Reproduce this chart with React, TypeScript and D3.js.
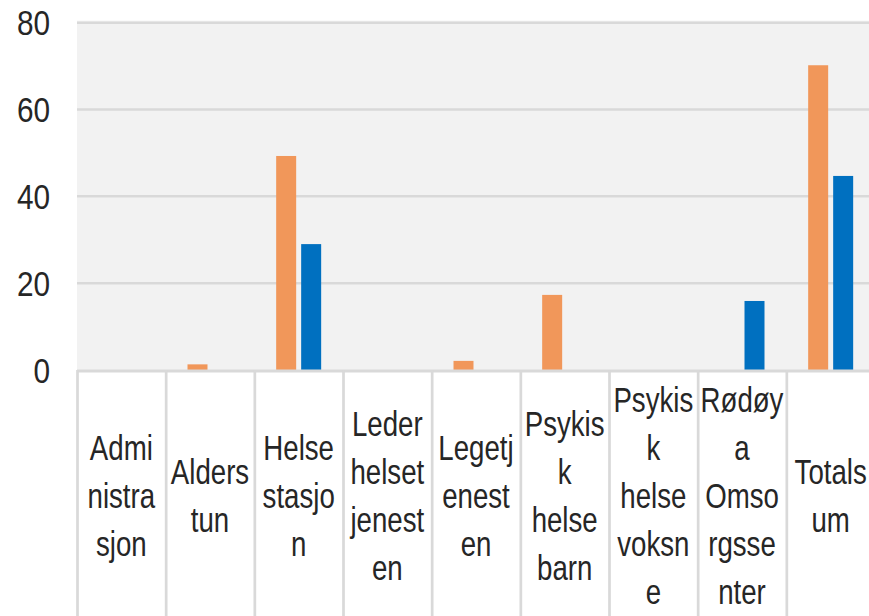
import React from 'react';
import * as d3 from 'd3';

const categories = [
  'Administrasjon',
  'Alderstun',
  'Helsestasjon',
  'Leder helsetjenesten',
  'Legetjenesten',
  'Psykisk helse barn',
  'Psykisk helse voksne',
  'Rødøya Omsorgssenter',
  'Totalsum',
];

// wrapped the same way as the original axis labels
const labelLines = [
  ['Admi', 'nistra', 'sjon'],
  ['Alders', 'tun'],
  ['Helse', 'stasjo', 'n'],
  ['Leder', 'helset', 'jenest', 'en'],
  ['Legetj', 'enest', 'en'],
  ['Psykis', 'k', 'helse', 'barn'],
  ['Psykis', 'k', 'helse', 'voksn', 'e'],
  ['Rødøy', 'a', 'Omso', 'rgsse', 'nter'],
  ['Totals', 'um'],
];

const seriesNames = ['A', 'B'];
const valuesA = [0, 1.3, 49.3, 0, 2.1, 17.3, 0, 0, 70.2];
const valuesB = [0, 0, 29, 0, 0, 0, 0, 15.9, 44.7];
const yTicks = [0, 20, 40, 60, 80];

const colors = { A: '#F1975A', B: '#0070C0' };

const W = 869;
const H = 616;
const left = 77;
const right = 875;
const top = 22.7;
const zeroY = 370;

const App = () => {
  const x = d3.scaleBand().domain(categories).range([left, right]).padding(0);
  const y = d3.scaleLinear().domain([0, 80]).range([zeroY, top]);
  const x1 = d3.scaleBand().domain(seriesNames).range([0, 45]).paddingInner(0.2);

  const data = categories.map((c, i) => ({ c, A: valuesA[i], B: valuesB[i] }));
  const font = '"Liberation Sans", Arial, sans-serif';
  const lineGap = 48;
  const midBase = 508;

  return (
    <svg
      width={W}
      height={H}
      style={{ position: 'absolute', left: 0, top: 0, background: '#fff' }}
    >
      <rect x={left} y={top - 2} width={right - left} height={zeroY - top + 2} fill="#f2f2f2" />
      {yTicks.map((t) => (
        <g key={t}>
          {t > 0 && (
            <line x1={left} x2={right} y1={y(t)} y2={y(t)} stroke="#d9d9d9" strokeWidth={2.5} />
          )}
          <text
            transform={`translate(50,${y(t) + 12.5}) scale(0.85,1)`}
            textAnchor="end"
            fontFamily={font}
            fontSize={35}
            fill="#262626"
          >
            {t}
          </text>
        </g>
      ))}
      {data.map((d) => {
        const cx = (x(d.c) as number) + x.bandwidth() / 2;
        return (
          <g key={d.c} transform={`translate(${cx - 22.5},0)`}>
            {seriesNames.map((s) => {
              const v = (d as any)[s] as number;
              if (!v) return null;
              return (
                <rect
                  key={s}
                  x={x1(s)}
                  width={x1.bandwidth()}
                  y={y(v)}
                  height={zeroY - y(v)}
                  fill={(colors as any)[s]}
                />
              );
            })}
          </g>
        );
      })}
      <line x1={left} x2={right} y1={zeroY + 1} y2={zeroY + 1} stroke="#d9d9d9" strokeWidth={3} />
      {categories.map((c) => (
        <line
          key={'sep' + c}
          x1={(x(c) as number) + 0.5}
          x2={(x(c) as number) + 0.5}
          y1={zeroY}
          y2={H}
          stroke="#d9d9d9"
          strokeWidth={2.7}
        />
      ))}
      <line x1={right} x2={right} y1={zeroY} y2={H} stroke="#d9d9d9" strokeWidth={2.7} />
      {categories.map((c, i) => {
        const cx = (x(c) as number) + x.bandwidth() / 2;
        const lines = labelLines[i];
        const n = lines.length;
        return lines.map((ln, j) => (
          <text
            key={c + j}
            transform={`translate(${cx},${midBase + (j - (n - 1) / 2) * lineGap}) scale(0.79,1)`}
            textAnchor="middle"
            fontFamily={font}
            fontSize={35}
            fill="#262626"
          >
            {ln}
          </text>
        ));
      })}
    </svg>
  );
};

export default App;
